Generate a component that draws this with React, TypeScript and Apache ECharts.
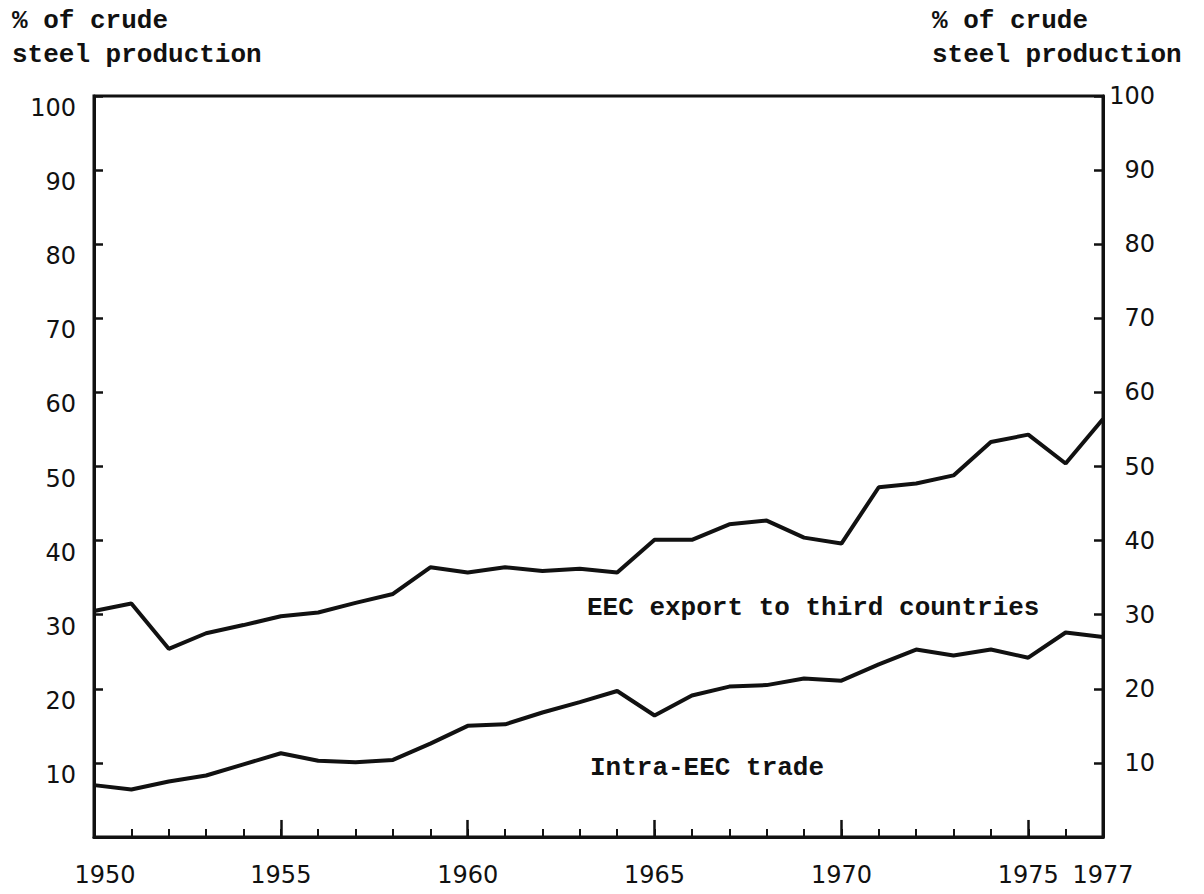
import React, { useEffect, useRef } from "react";
import * as echarts from "echarts";

const years = [
  1950, 1951, 1952, 1953, 1954, 1955, 1956, 1957, 1958, 1959,
  1960, 1961, 1962, 1963, 1964, 1965, 1966, 1967, 1968, 1969,
  1970, 1971, 1972, 1973, 1974, 1975, 1976, 1977,
];
const exportShare = [
  30.5, 31.5, 25.4, 27.5, 28.6, 29.8, 30.3, 31.6, 32.8, 36.4,
  35.7, 36.4, 35.9, 36.2, 35.7, 40.1, 40.1, 42.2, 42.7, 40.4,
  39.6, 47.2, 47.7, 48.8, 53.3, 54.3, 50.4, 56.4,
];
const intraShare = [
  7.0, 6.4, 7.5, 8.3, 9.8, 11.3, 10.3, 10.1, 10.4, 12.6,
  15.0, 15.2, 16.8, 18.2, 19.7, 16.4, 19.1, 20.3, 20.5, 21.4,
  21.1, 23.3, 25.3, 24.5, 25.3, 24.2, 27.6, 27.0,
];
const yearLabels = [1950, 1955, 1960, 1965, 1970, 1975, 1977];
const majorTickYears = [1955, 1960, 1965, 1970, 1975];
const yTickLabels = [10, 20, 30, 40, 50, 60, 70, 80, 90, 100];

const axisTitle = ["% of crude", "steel production"];
const exportLabel = "EEC export to third countries";
const intraLabel = "Intra-EEC trade";

const MONO = "'Liberation Mono', 'DejaVu Sans Mono', monospace";
const SANS = "'DejaVu Sans', sans-serif";
const INK = "#111";

export default function App() {
  const ref = useRef<HTMLDivElement>(null);

  useEffect(() => {
    if (!ref.current) return;
    const chart = echarts.init(ref.current, undefined, { renderer: "svg" });

    const yLabelFmt = (v: number) => (yTickLabels.includes(v) ? String(v) : "");

    const textStyleBase = {
      font: `bold 26px ${MONO}`,
      fill: INK,
      verticalAlign: "top",
      align: "left",
    };

    chart.setOption({
      animation: false,
      backgroundColor: "#fff",
      grid: {
        left: 94,
        right: 101,
        top: 96,
        bottom: 57,
        show: true,
        borderColor: INK,
        borderWidth: 3,
        backgroundColor: "transparent",
      },
      xAxis: {
        type: "value",
        min: 1950,
        max: 1977,
        interval: 1,
        splitLine: { show: false },
        axisLine: { show: true, lineStyle: { color: INK, width: 3 } },
        axisTick: { show: true, inside: true, length: 8, lineStyle: { color: INK, width: 2 } },
        axisLabel: {
          margin: 26,
          color: INK,
          fontFamily: SANS,
          fontSize: 24,
          showMinLabel: true,
          showMaxLabel: true,
          formatter: (v: number) => {
            if (!yearLabels.includes(v)) return "";
            if (v === 1950) return "{a|1950}";
            return String(v);
          },
          rich: {
            a: { fontFamily: SANS, fontSize: 24, color: INK, padding: [0, 0, 0, 22] },
          },
        },
      },
      yAxis: [
        {
          type: "value",
          position: "left",
          min: 0,
          max: 100,
          interval: 10,
          splitLine: { show: false },
          axisLine: { show: true, lineStyle: { color: INK, width: 3 } },
          axisTick: { show: true, inside: true, length: 9, lineStyle: { color: INK, width: 2.5 } },
          axisLabel: {
            margin: 18,
            color: INK,
            fontFamily: SANS,
            fontSize: 24,
            verticalAlign: "top",
            formatter: yLabelFmt,
          },
        },
        {
          type: "value",
          position: "right",
          min: 0,
          max: 100,
          interval: 10,
          splitLine: { show: false },
          axisLine: { show: true, lineStyle: { color: INK, width: 3 } },
          axisTick: { show: true, inside: true, length: 9, lineStyle: { color: INK, width: 2.5 } },
          axisLabel: {
            margin: 52,
            align: "right",
            color: INK,
            fontFamily: SANS,
            fontSize: 24,
            formatter: yLabelFmt,
          },
        },
      ],
      series: [
        {
          name: exportLabel,
          type: "line",
          data: years.map((y, i) => [y, exportShare[i]]),
          symbol: "none",
          lineStyle: { color: INK, width: 4 },
          markLine: {
            silent: true,
            symbol: ["none", "none"],
            label: { show: false },
            lineStyle: { color: INK, width: 2.5, type: "solid" },
            data: majorTickYears.map((y) => [{ coord: [y, 0] }, { coord: [y, 2.3] }]),
          },
        },
        {
          name: intraLabel,
          type: "line",
          data: years.map((y, i) => [y, intraShare[i]]),
          symbol: "none",
          lineStyle: { color: INK, width: 4 },
        },
      ],
      graphic: [
        { type: "text", left: 12, top: 8, style: { ...textStyleBase, text: axisTitle[0] } },
        { type: "text", left: 12, top: 42, style: { ...textStyleBase, text: axisTitle[1] } },
        { type: "text", left: 932, top: 8, style: { ...textStyleBase, text: axisTitle[0] } },
        { type: "text", left: 932, top: 42, style: { ...textStyleBase, text: axisTitle[1] } },
        { type: "text", left: 587, top: 595, style: { ...textStyleBase, text: exportLabel } },
        { type: "text", left: 590, top: 755, style: { ...textStyleBase, text: intraLabel } },
      ],
    });

    return () => chart.dispose();
  }, []);

  return (
    <div
      ref={ref}
      style={{ position: "absolute", left: 0, top: 0, width: 1204, height: 894 }}
    />
  );
}
